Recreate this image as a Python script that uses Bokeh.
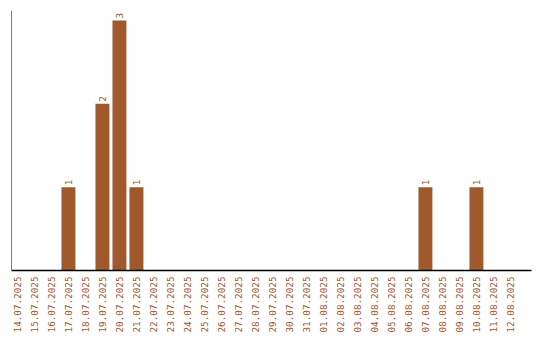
import math
from bokeh.plotting import figure
from bokeh.models import Range1d, FixedTicker, Span, ColumnDataSource
from bokeh.core.properties import value
from bokeh.embed import file_html
from bokeh.resources import INLINE

dates = ["14.07.2025", "15.07.2025", "16.07.2025", "17.07.2025", "18.07.2025",
         "19.07.2025", "20.07.2025", "21.07.2025", "22.07.2025", "23.07.2025",
         "24.07.2025", "25.07.2025", "26.07.2025", "27.07.2025", "28.07.2025",
         "29.07.2025", "30.07.2025", "31.07.2025", "01.08.2025", "02.08.2025",
         "03.08.2025", "04.08.2025", "05.08.2025", "06.08.2025", "07.08.2025",
         "08.08.2025", "09.08.2025", "10.08.2025", "11.08.2025", "12.08.2025"]
counts = [0, 0, 0, 1, 0, 2, 3, 1, 0, 0,
          0, 0, 0, 0, 0, 0, 0, 0, 0, 0,
          0, 0, 0, 0, 1, 0, 0, 1, 0, 0]

COLOR = "#A0582D"
FONT = "DejaVu Sans Mono"
FS = "9.3px"

idx = list(range(len(dates)))
src = ColumnDataSource(dict(x=idx, top=counts, lbl=[str(c) for c in counts]))
nz = [i for i, c in enumerate(counts) if c > 0]
lsrc = ColumnDataSource(dict(x=nz, y=[counts[i] for i in nz], lbl=[str(counts[i]) for i in nz]))

p = figure(frame_width=520, frame_height=260, output_backend="svg", toolbar_location=None,
           x_range=Range1d(-0.35, 30.24), y_range=Range1d(0, 3.12),
           min_border_left=11, min_border_right=9, min_border_top=10, min_border_bottom=70)
p.outline_line_color = None
p.xgrid.visible = False
p.ygrid.visible = False
p.yaxis.visible = False

p.vbar(x="x", top="top", width=0.82, bottom=0, source=src, fill_color=COLOR, line_color=None)
p.text(x="x", y="y", text="lbl", source=lsrc, angle=math.pi / 2, y_offset=-2,
       text_align="left", text_baseline="middle", text_color=COLOR,
       text_font=value(FONT), text_font_size=FS)

p.add_layout(Span(location=-0.35, dimension="height", line_color="black", line_width=1))

ax = p.xaxis[0]
ax.ticker = FixedTicker(ticks=idx)
ax.major_label_overrides = {i: d for i, d in enumerate(dates)}
ax.major_label_orientation = math.pi / 2
ax.major_tick_line_color = None
ax.minor_tick_line_color = None
ax.major_tick_out = 0
ax.major_label_standoff = 6
ax.axis_line_color = "black"
ax.axis_line_width = 1.5
ax.major_label_text_color = COLOR
ax.major_label_text_font = FONT
ax.major_label_text_font_size = FS

open("out.html", "w").write(file_html(p, INLINE))
